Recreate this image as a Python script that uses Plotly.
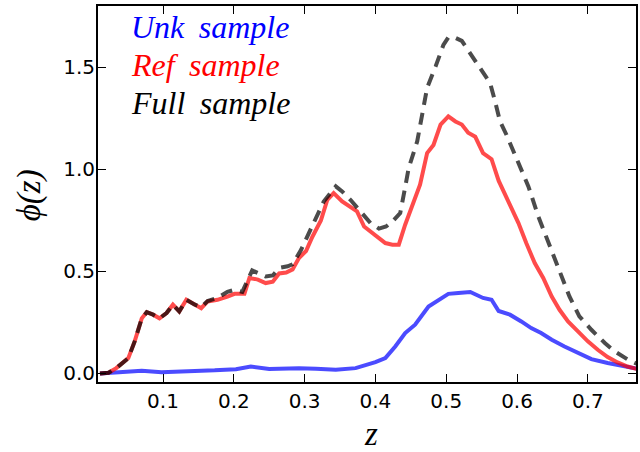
import plotly.graph_objects as go

# ---- data ----
z_ref = [0.011, 0.023, 0.034, 0.051, 0.060, 0.070, 0.077, 0.086, 0.095, 0.105, 0.114, 0.123,
         0.133, 0.145, 0.154, 0.163, 0.177, 0.191, 0.201, 0.215, 0.222, 0.234, 0.245, 0.255,
         0.264, 0.274, 0.283, 0.292, 0.302, 0.311, 0.323, 0.332, 0.341, 0.353, 0.365, 0.374,
         0.384, 0.395, 0.405, 0.414, 0.424, 0.433, 0.442, 0.452, 0.463, 0.473, 0.482, 0.492,
         0.503, 0.513, 0.522, 0.531, 0.541, 0.552, 0.564, 0.574, 0.588, 0.602, 0.613, 0.625,
         0.637, 0.649, 0.660, 0.672, 0.686, 0.700, 0.714, 0.728, 0.742, 0.756, 0.770]
phi_ref = [0.0, 0.003, 0.026, 0.075, 0.157, 0.27, 0.30, 0.288, 0.27, 0.296, 0.337, 0.304,
           0.361, 0.337, 0.32, 0.353, 0.361, 0.377, 0.39, 0.39, 0.468, 0.46, 0.443, 0.45,
           0.49, 0.495, 0.51, 0.566, 0.60, 0.67, 0.75, 0.85, 0.884, 0.843, 0.814, 0.794,
           0.72, 0.688, 0.66, 0.639, 0.631, 0.631, 0.729, 0.827, 0.925, 1.08, 1.12, 1.22,
           1.26, 1.235, 1.22, 1.18, 1.16, 1.08, 1.05, 0.945, 0.843, 0.737, 0.639, 0.541,
           0.468, 0.377, 0.312, 0.255, 0.206, 0.157, 0.116, 0.080, 0.054, 0.034, 0.021]

z_full = [0.011, 0.023, 0.034, 0.051, 0.060, 0.070, 0.077, 0.086, 0.095, 0.105, 0.114, 0.123,
          0.133, 0.145, 0.154, 0.163, 0.177, 0.191, 0.201, 0.212, 0.226, 0.245, 0.255, 0.264,
          0.276, 0.283, 0.295, 0.311, 0.327, 0.344, 0.353, 0.365, 0.379, 0.393, 0.405, 0.415,
          0.424, 0.435, 0.440, 0.447, 0.459, 0.466, 0.473, 0.485, 0.496, 0.503, 0.513, 0.522,
          0.529, 0.545, 0.562, 0.569, 0.576, 0.585, 0.599, 0.616, 0.630, 0.645, 0.659, 0.674,
          0.688, 0.705, 0.724, 0.738, 0.757, 0.770]
phi_full = [0.0, 0.003, 0.026, 0.075, 0.157, 0.27, 0.30, 0.288, 0.27, 0.296, 0.337, 0.304,
            0.361, 0.337, 0.325, 0.355, 0.37, 0.40, 0.41, 0.40, 0.505, 0.475, 0.48, 0.517,
            0.525, 0.535, 0.606, 0.73, 0.843, 0.917, 0.892, 0.85, 0.794, 0.737, 0.71, 0.72,
            0.745, 0.786, 0.876, 1.007, 1.137, 1.268, 1.40, 1.505, 1.61, 1.647, 1.645, 1.63,
            1.595, 1.513, 1.423, 1.333, 1.235, 1.17, 1.05, 0.917, 0.77, 0.639, 0.508, 0.377,
            0.28, 0.214, 0.149, 0.108, 0.067, 0.046]

z_unk = [0.011, 0.032, 0.070, 0.098, 0.145, 0.173, 0.203, 0.224, 0.25, 0.292, 0.316, 0.344,
         0.372, 0.386, 0.40, 0.414, 0.428, 0.442, 0.456, 0.475, 0.489, 0.503, 0.517, 0.534,
         0.552, 0.564, 0.574, 0.59, 0.606, 0.62, 0.634, 0.649, 0.667, 0.686, 0.705, 0.728,
         0.752, 0.77]
phi_unk = [0.0, 0.005, 0.013, 0.006, 0.01, 0.015, 0.021, 0.034, 0.022, 0.026, 0.023, 0.018,
           0.026, 0.038, 0.055, 0.075, 0.132, 0.198, 0.239, 0.328, 0.361, 0.39, 0.394, 0.399,
           0.37, 0.361, 0.306, 0.288, 0.255, 0.222, 0.198, 0.165, 0.132, 0.1, 0.07, 0.051,
           0.034, 0.023]

labels = ["Unk sample", "Ref sample", "Full sample"]
label_colors = ["blue", "red", "black"]
x_ticks = [0.1, 0.2, 0.3, 0.4, 0.5, 0.6, 0.7]
y_ticks = [0.0, 0.5, 1.0, 1.5]

fig = go.Figure()
fig.add_trace(go.Scatter(x=z_unk, y=phi_unk, mode="lines",
                         line=dict(color="blue", width=4), opacity=0.7, showlegend=False))
fig.add_trace(go.Scatter(x=z_ref, y=phi_ref, mode="lines",
                         line=dict(color="red", width=4), opacity=0.7, showlegend=False))
fig.add_trace(go.Scatter(x=z_full, y=phi_full, mode="lines",
                         line=dict(color="black", width=4, dash="12px,8px"), opacity=0.7,
                         showlegend=False))

W, H = 640, 452
L, R, T, B = 98, 2, 6, 70
pw, ph = W - L - R, H - T - B

def px(xp):
    return (xp - L) / pw

def py(yp):
    return (H - B - yp) / ph

axis_common = dict(showline=True, linewidth=2, linecolor="black", mirror="ticks",
                   ticks="inside", ticklen=8, tickwidth=1.3, tickcolor="black",
                   showgrid=False, zeroline=False,
                   tickfont=dict(family="DejaVu Sans", size=20, color="black"))

fig.update_layout(
    width=W, height=H,
    margin=dict(l=L, r=R, t=T, b=B),
    paper_bgcolor="white", plot_bgcolor="white",
    xaxis=dict(range=[0.0082, 0.768], tickvals=x_ticks, tickformat=".1f", **axis_common),
    yaxis=dict(range=[-0.042, 1.801], tickvals=y_ticks, tickformat=".1f",
               ticklabelstandoff=-3, **axis_common),
)

lab_font = "Liberation Serif"
for i, (t, c) in enumerate(zip(labels, label_colors)):
    fig.add_annotation(x=px(129), y=py(27 + 38 * i), xref="paper", yref="paper",
                       text="<i>%s</i>" % t.replace(" ", "&nbsp;&#8201;"), showarrow=False,
                       xanchor="left", yanchor="middle",
                       font=dict(family=lab_font, size=32, color=c))

fig.add_annotation(x=px(29), y=py(195), xref="paper", yref="paper", text="<i>ϕ(z)</i>",
                   showarrow=False, textangle=-90, xanchor="center", yanchor="middle",
                   font=dict(family=lab_font, size=33, color="black"))
fig.add_annotation(x=px(372), y=py(434), xref="paper", yref="paper", text="<i>z</i>",
                   showarrow=False, xanchor="center", yanchor="middle",
                   font=dict(family=lab_font, size=33, color="black"))

fig.write_html("out.html")
